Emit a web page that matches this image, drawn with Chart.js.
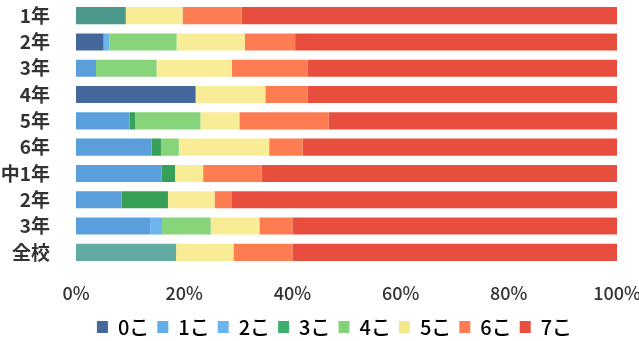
<!DOCTYPE html>
<html>
<head>
<meta charset="utf-8">
<script src="https://cdn.jsdelivr.net/npm/chart.js@4"></script>
<style>
  html, body { margin: 0; padding: 0; background: #fff; }
  #wrap { width: 639px; height: 341px; }
</style>
</head>
<body>
<div id="wrap"><canvas id="chart"></canvas></div>
<script>
const grades = ["1年", "2年", "3年", "4年", "5年", "6年", "中1年", "2年", "3年", "全校"];
const seriesNames = ["0こ", "1こ", "2こ", "3こ", "4こ", "5こ", "6こ", "7こ"];

// percentages, top to bottom
const zero  = [0, 5.1, 0, 22.1, 0, 0, 0, 0, 0, 0];
const one   = [9.2, 0, 3.7, 0, 9.9, 14.0, 15.8, 8.4, 13.7, 18.5];
const two   = [0, 1.1, 0, 0, 0, 0, 0, 0, 2.2, 0];
const three = [0, 0, 0, 0, 1.0, 1.7, 2.5, 8.6, 0, 0];
const four  = [0, 12.4, 11.2, 0, 12.1, 3.3, 0, 0, 9.0, 0];
const five  = [10.5, 12.6, 13.9, 12.9, 7.2, 16.7, 5.2, 8.6, 9.0, 10.6];
const six   = [10.9, 9.3, 14.0, 7.8, 16.5, 6.2, 10.8, 3.1, 6.1, 10.9];
const seven = [69.4, 59.5, 57.2, 57.2, 53.3, 58.1, 65.7, 71.3, 60.0, 60.0];

const xTicks = [0, 20, 40, 60, 80, 100];

const FONT = "'Noto Sans CJK JP', 'Noto Sans', sans-serif";
const LEGEND_DX = 26;
const LEGEND_DY = 6;

// the scan renders the first block of 1年 and 全校 in teal
const oneColors = grades.map((g, i) => i === 0 ? "#4a998b" : i === 9 ? "#62aba2" : "#5a9fdb");

const colors = ["#44679c", oneColors, "#6bb4ec", "#37a057", "#88d47b", "#f8ec96", "#fd7c52", "#e84e3e"];
const legendColors = ["#44679c", "#64aeea", "#6bb4ec", "#3dae6e", "#86d27a", "#f6e88a", "#fd7c52", "#e84e3e"];
const values = [zero, one, two, three, four, five, six, seven];

const datasets = seriesNames.map((name, i) => ({
  label: name,
  data: values[i],
  backgroundColor: colors[i],
  borderWidth: 0,
  barPercentage: 0.65,
  categoryPercentage: 1.0
}));

const shiftLegend = {
  id: "shiftLegend",
  afterLayout(chart) {
    const l = chart.legend;
    l.left += LEGEND_DX;
    l.right += LEGEND_DX;
    l.top += LEGEND_DY;
    l.bottom += LEGEND_DY;
  }
};

new Chart(document.getElementById("chart"), {
  type: "bar",
  data: { labels: grades, datasets },
  plugins: [shiftLegend],
  options: {
    indexAxis: "y",
    responsive: true,
    maintainAspectRatio: false,
    animation: false,
    layout: { padding: { left: 0, right: 22, top: 2.5, bottom: 0 } },
    plugins: {
      tooltip: { enabled: false },
      legend: {
        position: "bottom",
        labels: {
          boxWidth: 11,
          boxHeight: 12,
          padding: 8,
          color: "#333",
          font: { family: FONT, size: 20, weight: "500" },
          generateLabels: () => seriesNames.map((name, i) => ({
            text: name,
            fillStyle: legendColors[i],
            strokeStyle: legendColors[i],
            lineWidth: 0,
            datasetIndex: i
          }))
        }
      }
    },
    scales: {
      x: {
        stacked: true,
        min: 0,
        max: 100,
        afterBuildTicks: axis => { axis.ticks = xTicks.map(v => ({ value: v })); },
        afterFit: axis => {
          axis.height = 37.5;
          axis.paddingLeft = 0;
          axis.paddingRight = 0;
        },
        grid: { display: false },
        border: { display: false },
        ticks: {
          padding: 9,
          color: "#333",
          font: { family: FONT, size: 18, weight: "500" },
          callback: v => v + "%"
        }
      },
      y: {
        stacked: true,
        afterFit: axis => {
          axis.width = 76;
          axis.paddingTop = 0;
          axis.paddingBottom = 0;
        },
        grid: { display: false },
        border: { display: false },
        ticks: {
          autoSkip: false,
          padding: 18,
          color: "#333",
          font: { family: FONT, size: 19, weight: "bold" }
        }
      }
    }
  }
});
</script>
</body>
</html>
